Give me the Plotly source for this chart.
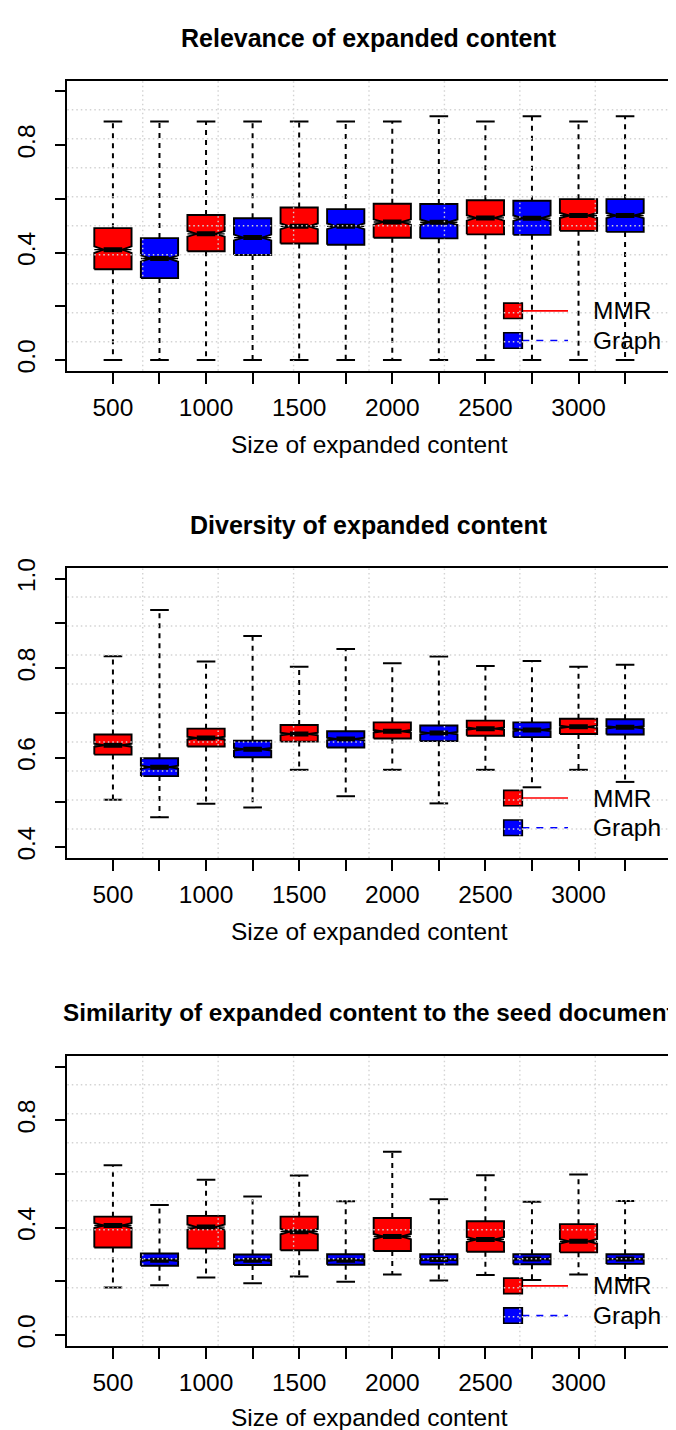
import plotly.graph_objects as go

# ---------------- data ----------------
sizes = ["500", "1000", "1500", "2000", "2500", "3000"]
methods = ["MMR", "Graph"]
method_colors = ["#FF0000", "#0000FF"]

titles = ["Relevance of expanded content",
          "Diversity of expanded content",
          "Similarity of expanded content to the seed document"]
x_title = "Size of expanded content"

# Relevance
rel_mmr_q1 = [0.338, 0.405, 0.434, 0.455, 0.468, 0.481]
rel_mmr_med = [0.411, 0.470, 0.498, 0.514, 0.529, 0.538]
rel_mmr_q3 = [0.491, 0.540, 0.568, 0.582, 0.595, 0.599]
rel_mmr_lo = [0.0, 0.0, 0.0, 0.0, 0.0, 0.0]
rel_mmr_hi = [0.888, 0.888, 0.888, 0.888, 0.888, 0.888]
rel_gr_q1 = [0.305, 0.391, 0.429, 0.453, 0.466, 0.477]
rel_gr_med = [0.378, 0.456, 0.498, 0.513, 0.528, 0.538]
rel_gr_q3 = [0.454, 0.528, 0.562, 0.581, 0.593, 0.599]
rel_gr_lo = [0.0, 0.0, 0.0, 0.0, 0.0, 0.0]
rel_gr_hi = [0.888, 0.888, 0.888, 0.908, 0.908, 0.908]

# Diversity
div_mmr_q1 = [0.607, 0.625, 0.636, 0.643, 0.649, 0.653]
div_mmr_med = [0.628, 0.644, 0.653, 0.659, 0.665, 0.669]
div_mmr_q3 = [0.652, 0.665, 0.673, 0.679, 0.683, 0.687]
div_mmr_lo = [0.506, 0.497, 0.573, 0.573, 0.573, 0.573]
div_mmr_hi = [0.827, 0.815, 0.803, 0.811, 0.805, 0.803]
div_gr_q1 = [0.559, 0.601, 0.623, 0.637, 0.646, 0.652]
div_gr_med = [0.579, 0.619, 0.642, 0.655, 0.662, 0.668]
div_gr_q3 = [0.599, 0.638, 0.659, 0.672, 0.679, 0.686]
div_gr_lo = [0.467, 0.489, 0.514, 0.498, 0.534, 0.546]
div_gr_hi = [0.930, 0.872, 0.843, 0.826, 0.816, 0.808]

# Similarity to seed
sim_mmr_q1 = [0.326, 0.322, 0.316, 0.313, 0.310, 0.308]
sim_mmr_med = [0.408, 0.402, 0.385, 0.367, 0.356, 0.349]
sim_mmr_q3 = [0.441, 0.444, 0.441, 0.436, 0.424, 0.413]
sim_mmr_lo = [0.177, 0.214, 0.218, 0.226, 0.224, 0.226]
sim_mmr_hi = [0.632, 0.578, 0.594, 0.683, 0.595, 0.598]
sim_gr_q1 = [0.258, 0.261, 0.262, 0.263, 0.264, 0.265]
sim_gr_med = [0.279, 0.279, 0.279, 0.281, 0.283, 0.283]
sim_gr_q3 = [0.304, 0.300, 0.301, 0.301, 0.301, 0.301]
sim_gr_lo = [0.186, 0.193, 0.199, 0.203, 0.205, 0.205]
sim_gr_hi = [0.484, 0.516, 0.498, 0.506, 0.496, 0.499]

# sample size assumed for the notch (R: median +/- 1.58 * IQR / sqrt(n))
n_obs = 400

panels = [
    dict(mmr=(rel_mmr_q1, rel_mmr_med, rel_mmr_q3, rel_mmr_lo, rel_mmr_hi),
         gr=(rel_gr_q1, rel_gr_med, rel_gr_q3, rel_gr_lo, rel_gr_hi),
         yrange=(0.0, 1.0), yticks=[0.0, 0.2, 0.4, 0.6, 0.8, 1.0],
         ylabels=["0.0", "", "0.4", "", "0.8", ""], tsize=25),
    dict(mmr=(div_mmr_q1, div_mmr_med, div_mmr_q3, div_mmr_lo, div_mmr_hi),
         gr=(div_gr_q1, div_gr_med, div_gr_q3, div_gr_lo, div_gr_hi),
         yrange=(0.4, 1.0), yticks=[0.4, 0.5, 0.6, 0.7, 0.8, 0.9, 1.0],
         ylabels=["0.4", "", "0.6", "", "0.8", "", "1.0"], tsize=25),
    dict(mmr=(sim_mmr_q1, sim_mmr_med, sim_mmr_q3, sim_mmr_lo, sim_mmr_hi),
         gr=(sim_gr_q1, sim_gr_med, sim_gr_q3, sim_gr_lo, sim_gr_hi),
         yrange=(0.0, 1.0), yticks=[0.0, 0.2, 0.4, 0.6, 0.8, 1.0],
         ylabels=["0.0", "", "0.4", "", "0.8", ""], tsize=24.3),
]

# ---------------- layout geometry (pixels) ----------------
W, H = 676, 1430
plot_left, plot_right = 59.3, 662.7
plot_tops = [63.3, 555.0, 1047.3]
plot_h = 292.7
xtitle_off = [74.5, 74.5, 72.0]
FONT = "Liberation Sans, Arial, Helvetica, sans-serif"
BOXWEX = 0.8
HW = BOXWEX / 2          # half box width
NOTCH_FRAC = 0.5

n_box = len(sizes) * len(methods)
positions = list(range(1, n_box + 1))
x0, x1 = 0.5, n_box + 0.5
pad = 0.04 * (x1 - x0)
xrange = (x0 - pad, x1 + pad)

fig = go.Figure()
shapes = []
annotations = []

for pi, p in enumerate(panels):
    xa = "x" if pi == 0 else f"x{pi+1}"
    ya = "y" if pi == 0 else f"y{pi+1}"
    ylo, yhi = p["yrange"]
    ypad = 0.04 * (yhi - ylo)
    yrange = (ylo - ypad, yhi + ypad)

    for mi, key in enumerate(["mmr", "gr"]):
        q1, med, q3, lo, hi = p[key]
        xs = positions[mi::2]
        # whiskers (dashed)
        wx, wy = [], []
        for x, a, b, l, h in zip(xs, q1, q3, lo, hi):
            wx += [x, x, None, x, x, None]
            wy += [b, h, None, a, l, None]
        fig.add_trace(go.Scatter(x=wx, y=wy, mode="lines", xaxis=xa, yaxis=ya,
                                 line=dict(color="black", width=2, dash="5px,5px"),
                                 hoverinfo="skip", showlegend=False))
        # staples
        sx, sy = [], []
        for x, l, h in zip(xs, lo, hi):
            sx += [x - HW / 2, x + HW / 2, None, x - HW / 2, x + HW / 2, None]
            sy += [h, h, None, l, l, None]
        fig.add_trace(go.Scatter(x=sx, y=sy, mode="lines", xaxis=xa, yaxis=ya,
                                 line=dict(color="black", width=2),
                                 hoverinfo="skip", showlegend=False))
        # notched boxes (R style outline)
        bx, by = [], []
        for x, a, m, b in zip(xs, q1, med, q3):
            n = 1.58 * (b - a) / (n_obs ** 0.5)
            bx += [x - HW, x + HW, x + HW, x + HW * NOTCH_FRAC, x + HW, x + HW,
                   x - HW, x - HW, x - HW * NOTCH_FRAC, x - HW, x - HW, None]
            by += [a, a, m - n, m, m + n, b, b, m + n, m, m - n, a, None]
        fig.add_trace(go.Scatter(x=bx, y=by, mode="lines", fill="toself",
                                 fillcolor=method_colors[mi], xaxis=xa, yaxis=ya,
                                 line=dict(color="black", width=1.9),
                                 hoverinfo="skip", showlegend=False, name=methods[mi]))
        # thin median line across the box and thick median in the notch
        tx, ty, mx, my = [], [], [], []
        for x, m in zip(xs, med):
            tx += [x - HW, x + HW, None]
            ty += [m, m, None]
            mx += [x - HW * NOTCH_FRAC, x + HW * NOTCH_FRAC, None]
            my += [m, m, None]
        fig.add_trace(go.Scatter(x=tx, y=ty, mode="lines", xaxis=xa, yaxis=ya,
                                 line=dict(color="black", width=1.3),
                                 hoverinfo="skip", showlegend=False))
        fig.add_trace(go.Scatter(x=mx, y=my, mode="lines", xaxis=xa, yaxis=ya,
                                 line=dict(color="black", width=5),
                                 hoverinfo="skip", showlegend=False))

    top = plot_tops[pi]
    dom_y = [1 - (top + plot_h) / H, 1 - top / H]
    xkey = "xaxis" if pi == 0 else f"xaxis{pi+1}"
    ykey = "yaxis" if pi == 0 else f"yaxis{pi+1}"
    xlabels = [s if i % 2 == 0 else "" for i, s in enumerate([v for v in sizes for _ in methods])]
    fig.update_layout(**{
        xkey: dict(domain=[plot_left / W, plot_right / W], anchor=ya, range=list(xrange),
                   tickmode="array", tickvals=positions, ticktext=xlabels,
                   ticks="outside", ticklen=11, tickwidth=1.6, tickcolor="black",
                   ticklabelstandoff=3,
                   showgrid=False, zeroline=False, showline=True, mirror=True,
                   linecolor="black", linewidth=1.6,
                   tickfont=dict(family=FONT, size=24.5, color="black")),
        ykey: dict(domain=dom_y, anchor=xa, range=list(yrange),
                   tickmode="array", tickvals=p["yticks"], ticktext=p["ylabels"],
                   ticks="outside", ticklen=11, tickwidth=1.6, tickcolor="black",
                   ticklabelstandoff=10,
                   tickangle=-90, showgrid=False, zeroline=False, showline=True,
                   mirror=True, linecolor="black", linewidth=1.6,
                   tickfont=dict(family=FONT, size=24.5, color="black")),
    })

    xd = xa + " domain"
    yd = ya + " domain"
    # legend (drawn before grid so the grid dots cross it)
    leg = [(0.180, 0.2333, "#FF0000", "solid", methods[0]),
           (0.0776, 0.1309, "#0000FF", "7px,7px", methods[1])]
    for yb, yt, col, dash, lab in leg:
        yc = (yb + yt) / 2
        shapes.append(dict(type="line", xref=xd, yref=yd, x0=0.7541, x1=0.8298,
                           y0=yc, y1=yc, line=dict(color=col, width=1.6, dash=dash),
                           layer="above"))
        shapes.append(dict(type="rect", xref=xd, yref=yd, x0=0.7233, x1=0.7541,
                           y0=yb, y1=yt, fillcolor=col,
                           line=dict(color="black", width=1.6), layer="above"))
        annotations.append(dict(text=lab, xref=xd, yref=yd, x=0.8674, y=yc,
                                xanchor="left", yanchor="middle", showarrow=False,
                                font=dict(family=FONT, size=24.5, color="black")))
    # grid (R grid(8, 10), drawn on top)
    for k in range(1, 8):
        gx = xrange[0] + k * (xrange[1] - xrange[0]) / 8
        shapes.append(dict(type="line", xref=xa, yref=yd, x0=gx, x1=gx, y0=0, y1=1,
                           line=dict(color="#D3D3D3", width=1.4, dash="1.5px,3px"),
                           layer="above"))
    for k in range(1, 10):
        gy = yrange[0] + k * (yrange[1] - yrange[0]) / 10
        shapes.append(dict(type="line", xref=xd, yref=ya, x0=0, x1=1, y0=gy, y1=gy,
                           line=dict(color="#D3D3D3", width=1.4, dash="1.5px,3px"),
                           layer="above"))
    # titles
    annotations.append(dict(text="<b>" + titles[pi] + "</b>", xref=xd, yref=yd,
                            x=0.5, y=1 + 43.5 / plot_h, xanchor="center", yanchor="middle",
                            showarrow=False,
                            font=dict(family=FONT, size=p["tsize"], color="black")))
    annotations.append(dict(text=x_title, xref=xd, yref=yd,
                            x=0.5, y=-xtitle_off[pi] / plot_h, xanchor="center",
                            yanchor="middle", showarrow=False,
                            font=dict(family=FONT, size=24.5, color="black")))

fig.update_layout(width=W, height=H, margin=dict(l=0, r=0, t=0, b=0),
                  paper_bgcolor="white", plot_bgcolor="white",
                  showlegend=False, shapes=shapes, annotations=annotations)

fig.write_html("out.html")
